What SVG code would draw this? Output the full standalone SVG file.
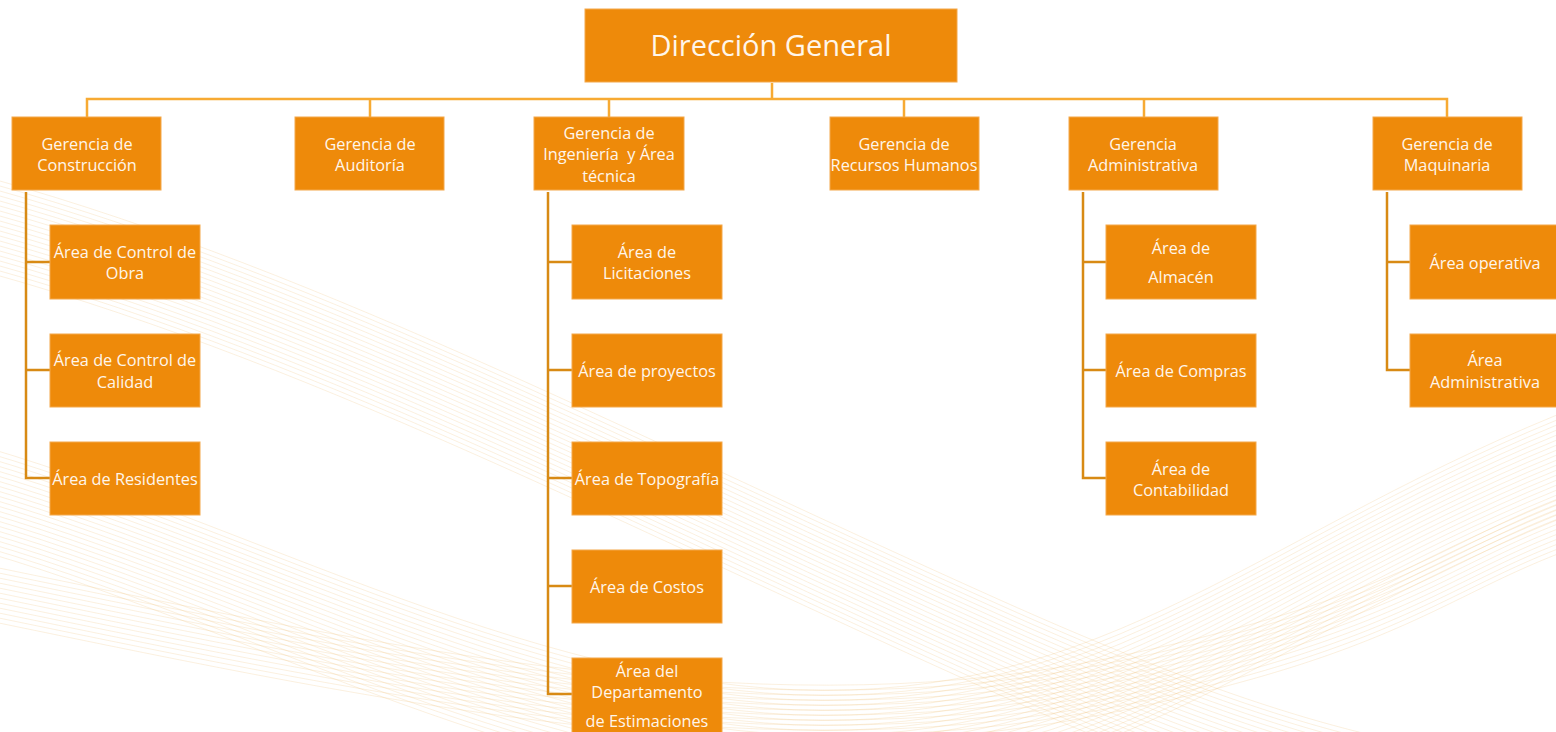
<svg xmlns="http://www.w3.org/2000/svg" xmlns:xlink="http://www.w3.org/1999/xlink" width="1556" height="732" viewBox="0 0 1556 732">
<style>
.box{fill:#EE8A0A;stroke:#F4A84A;stroke-width:1}
.t{font-family:"Open Sans","Noto Sans","Liberation Sans",sans-serif;font-size:16.3px;fill:#FFF6EA;text-anchor:middle}
.big{font-size:29px}
.c1{fill:none;stroke:#F7AA33;stroke-width:2.5}
.c2{fill:none;stroke:#D88A14;stroke-width:2.5}
.w{fill:none;stroke:#EDC07A;stroke-width:0.7;opacity:0.35}
</style>
<defs>
<path id="wa" d="M -40 170 C 300 260 620 430 1000 600 S 1450 740 1650 790"/>
<path id="wb" d="M -40 440 C 250 520 550 700 850 690 S 1300 500 1650 380"/>
<path id="wc" d="M -40 560 C 350 640 750 730 1100 660 S 1450 520 1650 470"/>
</defs>
<rect width="1556" height="732" fill="#FFFFFF"/>
<g id="background">
<use href="#wa" class="w"/><use href="#wa" class="w" y="5"/><use href="#wa" class="w" y="10"/><use href="#wa" class="w" y="15"/><use href="#wa" class="w" y="20"/><use href="#wa" class="w" y="25"/><use href="#wa" class="w" y="30"/><use href="#wa" class="w" y="35"/><use href="#wa" class="w" y="40"/><use href="#wa" class="w" y="45"/><use href="#wa" class="w" y="50"/><use href="#wa" class="w" y="55"/><use href="#wa" class="w" y="60"/><use href="#wa" class="w" y="65"/><use href="#wa" class="w" y="70"/><use href="#wa" class="w" y="75"/><use href="#wa" class="w" y="80"/><use href="#wa" class="w" y="85"/><use href="#wa" class="w" y="90"/><use href="#wa" class="w" y="95"/>
<use href="#wb" class="w"/><use href="#wb" class="w" y="5"/><use href="#wb" class="w" y="10"/><use href="#wb" class="w" y="15"/><use href="#wb" class="w" y="20"/><use href="#wb" class="w" y="25"/><use href="#wb" class="w" y="30"/><use href="#wb" class="w" y="35"/><use href="#wb" class="w" y="40"/><use href="#wb" class="w" y="45"/><use href="#wb" class="w" y="50"/><use href="#wb" class="w" y="55"/><use href="#wb" class="w" y="60"/><use href="#wb" class="w" y="65"/><use href="#wb" class="w" y="70"/><use href="#wb" class="w" y="75"/><use href="#wb" class="w" y="80"/><use href="#wb" class="w" y="85"/><use href="#wb" class="w" y="90"/><use href="#wb" class="w" y="95"/><use href="#wb" class="w" y="100"/><use href="#wb" class="w" y="105"/>
<use href="#wc" class="w"/><use href="#wc" class="w" y="5"/><use href="#wc" class="w" y="10"/><use href="#wc" class="w" y="15"/><use href="#wc" class="w" y="20"/><use href="#wc" class="w" y="25"/><use href="#wc" class="w" y="30"/><use href="#wc" class="w" y="35"/><use href="#wc" class="w" y="40"/><use href="#wc" class="w" y="45"/><use href="#wc" class="w" y="50"/><use href="#wc" class="w" y="55"/>
</g>
<g id="connectors">
<path class="c1" d="M772 83 V99 M87 117 V99 H1447 V117 M370 99 V117 M609 99 V117 M904 99 V117 M1144 99 V117"/>
<path class="c2" d="M26 192 V478 H50 M26 262 H50 M26 370 H50"/>
<path class="c2" d="M548 192 V694 H572 M548 262 H572 M548 370 H572 M548 478 H572 M548 586 H572"/>
<path class="c2" d="M1083 192 V478 H1106 M1083 262 H1106 M1083 370 H1106"/>
<path class="c2" d="M1387 192 V370 H1410 M1387 262 H1410"/>
</g>
<g id="n-direccion"><rect class="box" x="585" y="9" width="372" height="73"/><text class="t big" x="771" y="56">Dirección General</text></g>
<g id="n-construccion"><rect class="box" x="12" y="117" width="149" height="73"/><text class="t" x="87" y="150">Gerencia de</text><text class="t" x="87" y="171">Construcción</text></g>
<g id="n-auditoria"><rect class="box" x="295" y="117" width="149" height="73"/><text class="t" x="370" y="150">Gerencia de</text><text class="t" x="370" y="171">Auditoría</text></g>
<g id="n-ingenieria"><rect class="box" x="534" y="117" width="150" height="73"/><text class="t" x="609" y="139">Gerencia de</text><text class="t" x="609" y="160" xml:space="preserve">Ingeniería  y Área</text><text class="t" x="609" y="182">técnica</text></g>
<g id="n-rrhh"><rect class="box" x="830" y="117" width="149" height="73"/><text class="t" x="904" y="150">Gerencia de</text><text class="t" x="904" y="171">Recursos Humanos</text></g>
<g id="n-administrativa"><rect class="box" x="1069" y="117" width="149" height="73"/><text class="t" x="1143" y="150">Gerencia</text><text class="t" x="1143" y="171">Administrativa</text></g>
<g id="n-maquinaria"><rect class="box" x="1373" y="117" width="149" height="73"/><text class="t" x="1447" y="150">Gerencia de</text><text class="t" x="1447" y="171">Maquinaria</text></g>
<g id="n-control-obra"><rect class="box" x="50" y="225" width="150" height="74"/><text class="t" x="125" y="258">Área de Control de</text><text class="t" x="125" y="279">Obra</text></g>
<g id="n-control-calidad"><rect class="box" x="50" y="334" width="150" height="73"/><text class="t" x="125" y="366">Área de Control de</text><text class="t" x="125" y="388">Calidad</text></g>
<g id="n-residentes"><rect class="box" x="50" y="442" width="150" height="73"/><text class="t" x="125" y="485">Área de Residentes</text></g>
<g id="n-licitaciones"><rect class="box" x="572" y="225" width="150" height="74"/><text class="t" x="647" y="258">Área de</text><text class="t" x="647" y="279">Licitaciones</text></g>
<g id="n-proyectos"><rect class="box" x="572" y="334" width="150" height="73"/><text class="t" x="647" y="377">Área de proyectos</text></g>
<g id="n-topografia"><rect class="box" x="572" y="442" width="150" height="73"/><text class="t" x="647" y="485">Área de Topografía</text></g>
<g id="n-costos"><rect class="box" x="572" y="550" width="150" height="73"/><text class="t" x="647" y="593">Área de Costos</text></g>
<g id="n-estimaciones"><rect class="box" x="572" y="658" width="150" height="80"/><text class="t" x="647" y="677">Área del</text><text class="t" x="647" y="698">Departamento</text><text class="t" x="647" y="727">de Estimaciones</text></g>
<g id="n-almacen"><rect class="box" x="1106" y="225" width="150" height="74"/><text class="t" x="1181" y="254">Área de</text><text class="t" x="1181" y="283">Almacén</text></g>
<g id="n-compras"><rect class="box" x="1106" y="334" width="150" height="73"/><text class="t" x="1181" y="377">Área de Compras</text></g>
<g id="n-contabilidad"><rect class="box" x="1106" y="442" width="150" height="73"/><text class="t" x="1181" y="475">Área de</text><text class="t" x="1181" y="496">Contabilidad</text></g>
<g id="n-operativa"><rect class="box" x="1410" y="225" width="150" height="74"/><text class="t" x="1485" y="269">Área operativa</text></g>
<g id="n-area-admin"><rect class="box" x="1410" y="334" width="150" height="73"/><text class="t" x="1485" y="366">Área</text><text class="t" x="1485" y="388">Administrativa</text></g>
</svg>
